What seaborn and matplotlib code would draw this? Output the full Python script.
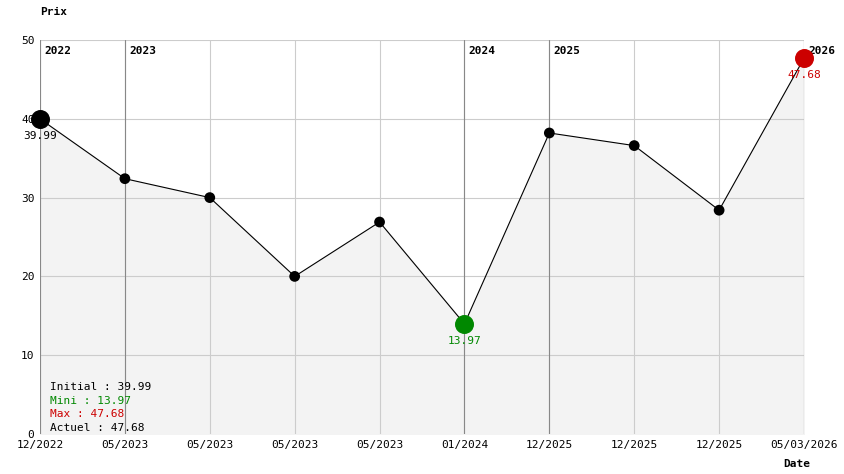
import matplotlib
matplotlib.use("Agg")
import matplotlib.pyplot as plt
import seaborn as sns
import pandas as pd

# price history
dates = ["12/2022", "05/2023", "05/2023", "05/2023", "05/2023",
         "01/2024", "12/2025", "12/2025", "12/2025", "05/03/2026"]
prices = [39.99, 32.4, 30.0, 20.0, 26.9, 13.97, 38.2, 36.6, 28.4, 47.68]
year_idx = [0, 1, 5, 6, 9]
year_labels = ["2022", "2023", "2024", "2025", "2026"]

sns.set_style("white")
plt.rcParams["font.family"] = ["DejaVu Sans Mono"]
plt.rcParams["font.size"] = 8
plt.rcParams["text.color"] = "black"
plt.rcParams["xtick.color"] = "black"
plt.rcParams["ytick.color"] = "black"

df = pd.DataFrame({"i": range(len(prices)), "prix": prices})

fig = plt.figure(figsize=(8.44, 4.74), dpi=100)
ax = fig.add_axes([40 / 844, 40 / 474, 764 / 844, 394 / 474])

ax.fill_between(df["i"], df["prix"], 0, color="#f3f3f3", zorder=0)
for i in df["i"]:
    ax.axvline(i, color="#cccccc", lw=0.8, zorder=1)
for y in range(10, 51, 10):
    ax.axhline(y, color="#cccccc", lw=0.8, zorder=1)
for i, lab in zip(year_idx, year_labels):
    ax.axvline(i, color="#888888", lw=0.8, zorder=1)
    ax.text(i + 0.05, 49.2, lab, fontweight="bold", va="top", ha="left", fontsize=8)

sns.lineplot(data=df, x="i", y="prix", color="black", lw=0.8, ax=ax, zorder=2)
sns.scatterplot(data=df, x="i", y="prix", color="black", s=60, ax=ax, zorder=3,
                edgecolor="none", clip_on=False)

imin = prices.index(min(prices))
imax = prices.index(max(prices))
ax.scatter([0], [prices[0]], s=160, color="black", zorder=4, clip_on=False)
ax.scatter([imin], [prices[imin]], s=160, color="#008800", zorder=4, clip_on=False)
ax.scatter([imax], [prices[imax]], s=160, color="#cc0000", zorder=4, clip_on=False)
ax.text(0, prices[0] - 1.5, f"{prices[0]:.2f}", ha="center", va="top", color="black")
ax.text(imin, prices[imin] - 1.5, f"{prices[imin]:.2f}", ha="center", va="top", color="#008800")
ax.text(imax, prices[imax] - 1.5, f"{prices[imax]:.2f}", ha="center", va="top", color="#cc0000")

legend = [("Initial : %.2f" % prices[0], "black"),
          ("Mini : %.2f" % prices[imin], "#008800"),
          ("Max : %.2f" % prices[imax], "#cc0000"),
          ("Actuel : %.2f" % prices[-1], "black")]
for k, (t, c) in enumerate(legend):
    ax.text(0.12, 6.0 - k * 1.75, t, color=c, va="center", ha="left")

ax.set_xlim(0, len(prices) - 1)
ax.set_ylim(0, 50)
ax.set_xticks(range(len(dates)))
ax.set_xticklabels(dates)
ax.set_yticks(range(0, 51, 10))
ax.tick_params(length=0, pad=4)
for s in ax.spines.values():
    s.set_visible(False)
ax.set_xlabel("")
ax.set_ylabel("")
fig.text(40 / 844, 1 - 12 / 474, "Prix", fontweight="bold", ha="left", va="center")
fig.text(783 / 844, 1 - 464 / 474, "Date", fontweight="bold", ha="left", va="center")

fig.savefig("out.png", dpi=100, facecolor="white")
